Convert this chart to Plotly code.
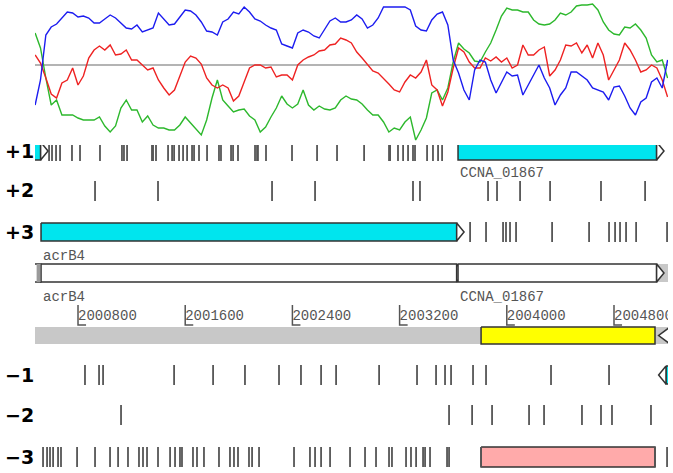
import plotly.graph_objects as go

# ---------------- data ----------------
VIEW = [2000479, 2005203]          # visible genomic window (bp)
skew_start = 2000480               # first window position (bp)
skew_step = 40                     # window step (bp)

skew_blue = [-40, -15, 30, 38, 41, 47, 53, 52, 48, 49,
             47, 42, 42, 46, 50, 47, 42, 37, 36, 40,
             33, 35, 37, 52, 46, 40, 41, 48, 55, 54,
             50, 43, 34, 33, 30, 43, 46, 53, 51, 58,
             53, 46, 44, 40, 37, 35, 21, 19, 17, 32,
             35, 33, 29, 27, 35, 44, 47, 43, 43, 45,
             50, 46, 37, 40, 47, 58, 58, 58, 58, 58,
             55, 39, 35, 34, 45, 51, 53, 40, 5, -8,
             -25, -35, -5, 5, 3, -15, -28, -17, -7, -11,
             -10, -30, -20, -9, 0, -13, -23, -40, -30, -23,
             -7, -7, -11, -15, -23, -25, -27, -35, -22, -21,
             -31, -43, -50, -37, -33, -17, -13, -23, 5]
skew_red = [10, 2, -13, -29, -33, -18, -15, -3, -20, -11,
            7, 15, 19, 15, 20, 10, 11, 15, 5, 5,
            0, -5, -3, -15, -23, -30, -25, -10, 3, 9,
            7, 1, -13, -20, -23, -20, -23, -36, -31, -17,
            -3, 0, 0, -3, -2, -12, -10, -10, -15, 0,
            5, 8, 10, 14, 15, 20, 21, 27, 25, 22,
            13, 7, 0, -6, -8, -13, -19, -25, -27, -17,
            -10, -13, -7, 5, -20, -25, -41, -27, -3, 17,
            13, 3, -3, -3, 7, 4, 8, 3, 7, -3,
            0, 20, 10, 10, 15, 18, -11, -5, 5, 20,
            19, 22, 12, 20, 7, 22, 10, -15, -5, 5,
            22, 15, 5, -7, -5, 0, -3, -15, -32]
skew_green = [32, 17, -13, -40, -35, -50, -50, -50, -53, -55,
              -55, -55, -52, -61, -67, -61, -43, -35, -45, -45,
              -57, -51, -60, -63, -63, -65, -65, -60, -52, -58,
              -63, -70, -55, -33, -15, -35, -41, -47, -45, -44,
              -51, -55, -67, -62, -52, -43, -31, -39, -43, -39,
              -25, -40, -45, -41, -44, -45, -43, -35, -31, -34,
              -35, -39, -45, -50, -50, -57, -67, -63, -65, -57,
              -52, -75, -65, -53, -28, -25, -35, -23, 3, 22,
              16, 12, 4, 3, 13, 22, 35, 49, 57, 55,
              55, 53, 53, 45, 41, 40, 41, 45, 52, 50,
              53, 59, 60, 60, 61, 55, 43, 35, 31, 30,
              38, 37, 41, 35, 27, 10, 3, 5, -13]

stops_p1 = [2000584, 2000606, 2000636, 2000666, 2000755, 2000815, 2000964, 2001128,
            2001143, 2001166, 2001352, 2001360, 2001382, 2001472, 2001502, 2001517,
            2001554, 2001584, 2001614, 2001651, 2001666, 2001703, 2001763, 2001852,
            2001867, 2001942, 2001957, 2001994, 2002121, 2002136, 2002143, 2002203,
            2002397, 2002584, 2002733, 2002935, 2003121, 2003129, 2003188, 2003226,
            2003263, 2003300, 2003315, 2003405, 2003449, 2003487, 2003517]
stops_p2 = [2000927, 2001397, 2002248, 2002569, 2003300, 2003352, 2003860, 2003927,
            2004099, 2004323, 2004703, 2005032]
stops_p3 = [2003726, 2003845, 2003972, 2003994, 2004024, 2004069, 2004338, 2004614,
            2004763, 2004808, 2004845, 2004890, 2004965, 2005196]
stops_m1 = [2000852, 2000957, 2000987, 2001517, 2001808, 2002046, 2002300, 2002464,
            2002614, 2002726, 2003047, 2003330, 2003472, 2003539, 2003584, 2003748,
            2003845, 2004330, 2004763]
stops_m2 = [2001121, 2003569, 2003741, 2003890, 2004166, 2004278, 2004561, 2004703,
            2004785, 2005076]
stops_m3 = [2000539, 2000569, 2000591, 2000614, 2000651, 2000673, 2000793, 2000927,
            2001039, 2001099, 2001173, 2001255, 2001285, 2001315, 2001397, 2001487,
            2001524, 2001561, 2001576, 2001658, 2001688, 2001740, 2001852, 2001934,
            2001964, 2001994, 2002076, 2002099, 2002151, 2002412, 2002531, 2002569,
            2002614, 2002681, 2002830, 2002942, 2003024, 2003121, 2003143, 2003248,
            2003285, 2003323, 2003375, 2003390, 2003427, 2003554, 2003569, 2003808,
            2005106, 2005196]

gene_names = ["", "acrB4", "CCNA_01867", ""]
gene_starts = [2000300, 2000524, 2003636, 2005133]
gene_ends = [2000576, 2003681, 2005173, 2005600]
gene_frames = ["+1", "+3", "+1", "-1"]
orf_start, orf_end = 2003808, 2005106
ruler_ticks = [2000800, 2001600, 2002400, 2003200, 2004000, 2004800]

# ---------------- layout constants (pixel rows) ----------------
W, H = 673, 473
X0, X1 = 35, 668
ARROW = 55            # arrow head length in bp
LANE = {"+1": 151, "+2": 191, "+3": 232, "-1": 375, "-2": 415, "-3": 457}
ANNOT_Y, RULER_Y = 273, 335.5
EDGE = "#333333"
TICK = "#555555"
MONO = "Liberation Mono"

fig = go.Figure()


def add(tr):
    tr.update(hoverinfo="skip", showlegend=False)
    fig.add_trace(tr)


# ---- skew plot ----
skew_x = [skew_start + skew_step * i for i in range(len(skew_blue))]
add(go.Scatter(x=VIEW, y=[0, 0], yaxis="y2", mode="lines",
               line=dict(color="#b4b4b4", width=2)))
for vals, col in [(skew_green, "#2db82d"), (skew_red, "#ee2222"), (skew_blue, "#1c1cf0")]:
    add(go.Scatter(x=skew_x, y=vals, yaxis="y2", mode="lines",
                   line=dict(color=col, width=1.4)))


# ---- helpers ----
def rect(s, e, yc, h, fill, lw=1.5, col=EDGE):
    add(go.Scatter(x=[s, e, e, s, s], y=[yc - h, yc - h, yc + h, yc + h, yc - h],
                   mode="lines", fill="toself", fillcolor=fill,
                   line=dict(color=col, width=lw)))


def tri(base, tip, yc, h, fill="white"):
    add(go.Scatter(x=[base, tip, base, base], y=[yc - h, yc, yc + h, yc - h],
                   mode="lines", fill="toself", fillcolor=fill,
                   line=dict(color=EDGE, width=1.5)))


def gene(s, e, strand, yc, h, fill):
    if strand > 0:
        rect(s, e - ARROW, yc, h, fill)
        tri(e - ARROW, e, yc, h)
    else:
        rect(s + ARROW, e, yc, h, fill)
        tri(s + ARROW, s, yc, h)


def stops(xs, yc, h=10):
    xx, yy = [], []
    for v in xs:
        xx += [v, v, None]
        yy += [yc - h, yc + h, None]
    add(go.Scatter(x=xx, y=yy, mode="lines", line=dict(color=TICK, width=1.8)))


# ---- frame stop codons ----
for fr, xs in [("+1", stops_p1), ("+2", stops_p2), ("+3", stops_p3),
               ("-1", stops_m1), ("-2", stops_m2)]:
    stops(xs, LANE[fr])

# ORF (pink) in -3 lane, then its stops
rect(orf_start, orf_end, LANE["-3"], 10, "#ffaaaa")
stops(stops_m3, LANE["-3"])

# ---- genes in frames ----
for nm, s, e, fr in zip(gene_names, gene_starts, gene_ends, gene_frames):
    strand = 1 if fr.startswith("+") else -1
    gene(s, e, strand, LANE[fr], 9, "#00e5ee")

# ---- annotation lane ----
rect(gene_ends[2] - ARROW, VIEW[1] + 100, ANNOT_Y, 9, "#c8c8c8", lw=0)
for i in range(3):
    gene(gene_starts[i], gene_ends[i], 1, ANNOT_Y, 9, "white")
rect(gene_ends[0] - ARROW - 30, gene_ends[0] - ARROW, ANNOT_Y, 9, "#9a9a9a", lw=0)

# ---- ruler ----
rect(VIEW[0] - 100, VIEW[1] + 100, RULER_Y, 8.5, "#c8c8c8", lw=0)
rect(orf_start, orf_end, RULER_Y, 8.5, "#ffff00")
tri(gene_starts[3] + ARROW + 30, gene_starts[3], RULER_Y, 8.5)
lx, ly = [], []
for t in ruler_ticks:
    lx += [t, t, t + 60, None]
    ly += [305, 325, 325, None]
add(go.Scatter(x=lx, y=ly, mode="lines", line=dict(color="#555555", width=1.5)))
add(go.Scatter(x=ruler_ticks, y=[316] * len(ruler_ticks), mode="text",
               text=[str(t) for t in ruler_ticks], textposition="middle right",
               cliponaxis=True, textfont=dict(family=MONO, size=14, color="#555555")))

# ---- labels ----
ann = []
for txt, yc in [("+1", 151), ("+2", 190), ("+3", 232), ("\u22121", 375),
                ("\u22122", 415), ("\u22123", 457)]:
    ann.append(dict(text=txt, xref="paper", yref="y", x=3 / W, y=yc, xanchor="left",
                    yanchor="middle", showarrow=False,
                    font=dict(family="DejaVu Sans", size=19, color="black", weight="bold")))
for txt, xv, yv in [(gene_names[2], gene_starts[2], 173), (gene_names[1], gene_starts[1], 256),
                    (gene_names[1], gene_starts[1], 297), (gene_names[2], gene_starts[2], 297)]:
    ann.append(dict(text=txt, xref="x", yref="y", x=xv, y=yv, xanchor="left",
                    yanchor="middle", showarrow=False, xshift=0,
                    font=dict(family=MONO, size=14, color="#555555")))

fig.update_layout(
    width=W, height=H, margin=dict(l=0, r=0, t=0, b=0),
    paper_bgcolor="white", plot_bgcolor="white",
    xaxis=dict(range=VIEW, domain=[X0 / W, X1 / W], visible=False, fixedrange=True),
    yaxis=dict(range=[H, 0], domain=[0, 1], visible=False, fixedrange=True),
    yaxis2=dict(range=[-80, 65], domain=[1 - 145 / H, 1], anchor="x", visible=False,
                fixedrange=True),
    annotations=ann,
)

fig.write_html(
    "out.html",
    config={"displayModeBar": False, "staticPlot": True},
    post_script="document.body.style.margin='0';document.body.style.overflow='hidden';",
)
